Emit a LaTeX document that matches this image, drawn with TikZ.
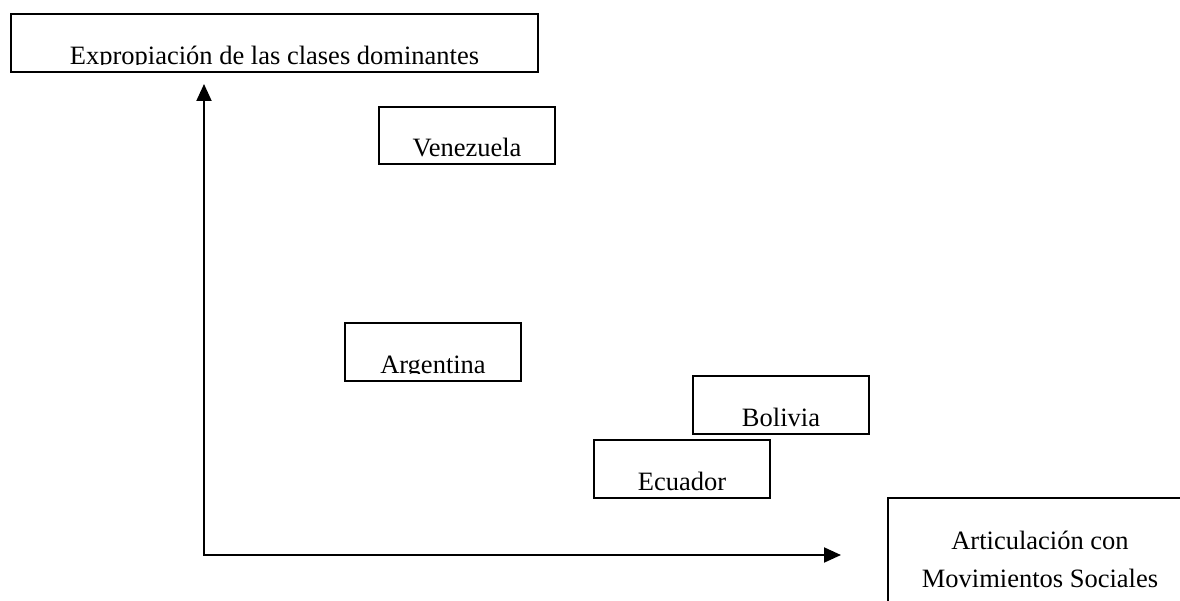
\documentclass[tikz,border=0pt]{standalone}
\usepackage{fontspec}
\setmainfont{Liberation Serif}
\usetikzlibrary{arrows.meta,calc}
\tikzset{
  labelbox/.style={draw,line width=2pt,minimum width=176pt,minimum height=57.5pt,inner sep=0pt},
  boxtext/.style={anchor=base,inner sep=0pt,font=\fontsize{26.5}{38}\selectfont},
  axis/.style={line width=2pt,{Triangle[length=17pt,width=15pt]}-{Triangle[length=17pt,width=15pt]}}
}
\begin{document}
\begin{tikzpicture}[x=1pt,y=-1pt]
  \useasboundingbox (0,0) rectangle (1180,601);
  \clip (0,0) rectangle (1180,601);
  \fill[white] (0,0) rectangle (1180,601);

  % axes
  \coordinate (origin) at (204,555);
  \coordinate (ytip) at (204,84);
  \coordinate (xtip) at (841,555);
  \draw[axis] (ytip) -- (origin) -- (xtip);

  % top label
  \node[labelbox,minimum width=527pt] (expro) at (274.5,43) {};
  \begin{scope}
    \clip ($(expro.south west)+(0,-8)$) rectangle (expro.north east);
    \node[boxtext] (exprotext) at ($(expro.south)+(0,-8.5)$) {Expropiación de las clases dominantes};
  \end{scope}

  % countries
  \foreach \name/\cx/\cy in {Venezuela/467/135.75, Argentina/433/351.75, Bolivia/781/404.75, Ecuador/682/468.75}{
    \node[labelbox] (\name) at (\cx,\cy) {};
    \begin{scope}
      \clip ($(\name.south west)+(0,-8)$) rectangle (\name.north east);
      \node[boxtext] (\name-text) at ($(\name.south)+(0,-8.5)$) {\name};
    \end{scope}
  }

  % right label
  \node[labelbox,minimum width=306pt,minimum height=130pt,anchor=north west] (artic) at (887,497) {};
  \node[boxtext,anchor=north,align=center] (artictext) at (1040,531) {Articulación con\\Movimientos Sociales};
\end{tikzpicture}
\end{document}
